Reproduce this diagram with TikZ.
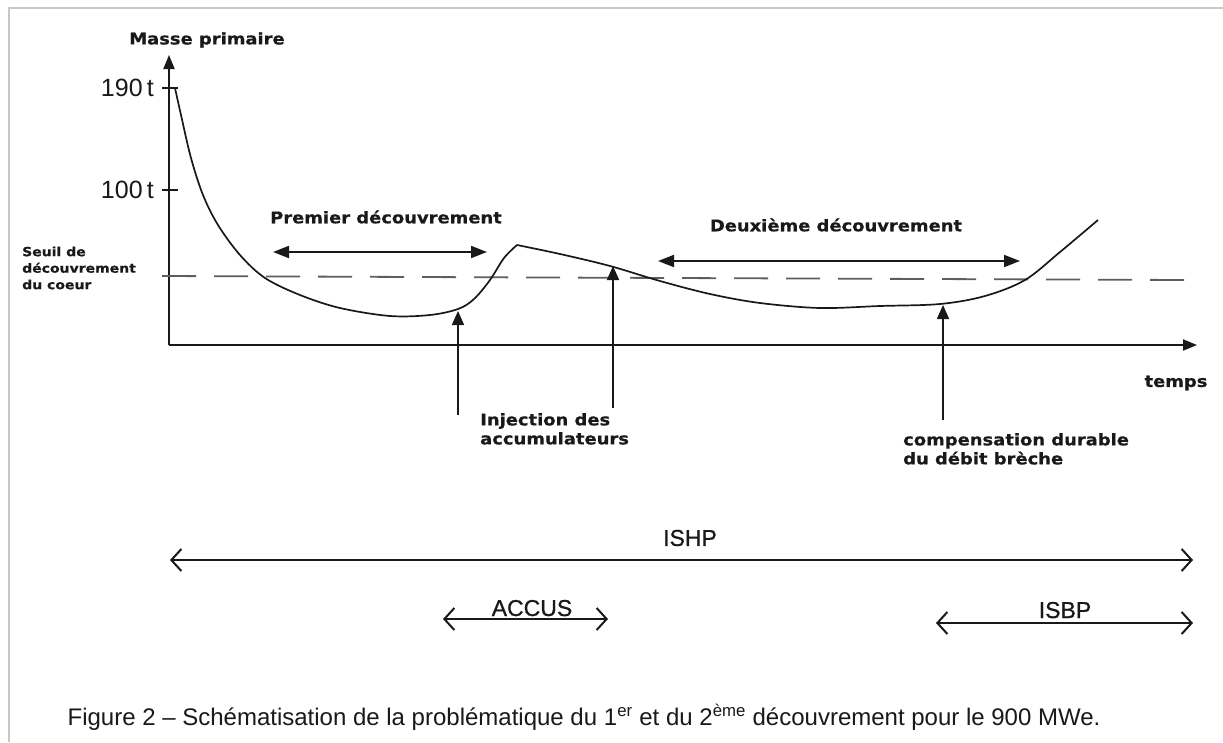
\documentclass[tikz,border=0pt]{standalone}
\usepackage{fontspec}
\usetikzlibrary{arrows.meta}
\newfontfamily\lab{DejaVu Sans}[FakeStretch=1.12, BoldFeatures={FakeBold=0.6}]
\newfontfamily\ari{Liberation Sans}
\newfontfamily\arib{Liberation Sans}[FakeBold=0.8]
\definecolor{framegray}{RGB}{200,200,200}
\definecolor{ink}{RGB}{25,25,25}
\tikzset{
  axis/.style={draw=ink, line width=2pt, -{Triangle[length=14pt,width=11pt]}},
  curve/.style={draw=ink, line width=1.7pt, line join=round},
  seuil/.style={draw=ink!70, line width=1.8pt, dash pattern=on 34pt off 18pt},
  fillarrow/.style={draw=ink, line width=1.8pt, {Triangle[length=16pt,width=12pt]}-{Triangle[length=16pt,width=12pt]}},
  uparrow/.style={draw=ink, line width=1.7pt, -{Triangle[length=14pt,width=12pt]}},
  openarrow/.style={draw=ink, line width=2pt, {Straight Barb[length=10pt,width=22pt]}-{Straight Barb[length=10pt,width=22pt]}},
  blab/.style={font=\lab\bfseries\fontsize{16}{19}\selectfont, text=ink, inner sep=0pt},
  slab/.style={font=\lab\bfseries\fontsize{12.5}{16.5}\selectfont, text=ink, inner sep=0pt, align=left},
  tlab/.style={font=\ari\fontsize{25}{28}\selectfont, text=ink, inner sep=0pt},
  plab/.style={font=\arib\fontsize{23}{26}\selectfont, text=ink, inner sep=0pt},
}
\begin{document}
\begin{tikzpicture}[x=1pt,y=-1pt]
\useasboundingbox (0,0) rectangle (1223,742);
\fill[white] (0,0) rectangle (1223,742);
% frame
\draw[framegray, line width=1.5pt] (9,742) -- (9,8) -- (1223,8);
% axes
\coordinate (O) at (169,345);
\coordinate (ytop) at (169,55);
\coordinate (xend) at (1197,345);
\draw[axis] (O) -- (ytop);
\draw[axis] (O) -- (xend);
\node[blab] (masse) at (207,40) {Masse primaire};
\node[blab] (temps) at (1176,383) {temps};
% ticks
\coordinate (t190a) at (162,88); \coordinate (t190b) at (178,88);
\coordinate (t100a) at (162,190); \coordinate (t100b) at (178,190);
\draw[ink, line width=1.8pt] (t190a) -- (t190b);
\draw[ink, line width=1.8pt] (t100a) -- (t100b);
\node[tlab, anchor=east] (l190) at (154,88) {190\,t};
\node[tlab, anchor=east] (l100) at (154,190) {100\,t};
% seuil
\coordinate (s1) at (162,276);
\coordinate (s2) at (1185,280);
\draw[seuil] (s1) -- (s2);
\node[slab, anchor=west] (seuiltxt) at (22,268) {Seuil de\\découvrement\\du coeur};
% curve
\draw[curve] plot[smooth, tension=0.55] coordinates {(175,88) (181,115) (191,158) (203,195) (218,225) (240,255) (265,278) (300,295) (340,308) (390,316) (430,315) (458,309) (474,299) (490,280) (504,258) (517,245)};
\draw[curve] plot[smooth, tension=0.55] coordinates {(517,245) (560,254) (610,266) (660,281) (710,294) (760,303) (820,308) (880,306) (940,304) (985,296) (1025,280) (1060,252) (1098,220)};
% premier
\coordinate (p1) at (273,252); \coordinate (p2) at (487,252);
\draw[fillarrow] (p1) -- (p2);
\node[blab] (premier) at (386,217) {Premier découvrement};
% deuxieme
\coordinate (d1) at (658,261); \coordinate (d2) at (1020,261);
\draw[fillarrow] (d1) -- (d2);
\node[blab] (deux) at (836,225) {Deuxième découvrement};
% vertical arrows
\coordinate (i0) at (458,415); \coordinate (i1) at (458,311);
\draw[uparrow] (i0) -- (i1);
\coordinate (j0) at (613,408); \coordinate (j1) at (613,266);
\draw[uparrow] (j0) -- (j1);
\coordinate (c0) at (943,420); \coordinate (c1) at (943,305);
\draw[uparrow] (c0) -- (c1);
\node[blab, anchor=north west, align=left] (inj) at (480,413) {Injection des\\accumulateurs};
\node[blab, anchor=north west, align=left] (comp) at (903,433) {compensation durable\\du débit brèche};
% bottom ranges
\coordinate (h1) at (170,560); \coordinate (h2) at (1193,560);
\draw[openarrow] (h1) -- (h2);
\node[plab] (ishp) at (690,538) {ISHP};
\coordinate (a1) at (443,619); \coordinate (a2) at (608,619);
\draw[openarrow] (a1) -- (a2);
\node[plab, anchor=base] (accus) at (532,616) {ACCUS};
\coordinate (b1) at (936,623); \coordinate (b2) at (1193,623);
\draw[openarrow] (b1) -- (b2);
\node[plab, anchor=base] (isbp) at (1065,618) {ISBP};
% caption
\node[font=\ari\fontsize{24}{28}\selectfont, text=ink, inner sep=0pt] (cap) at (584,717) {Figure 2 – Schématisation de la problématique du 1\textsuperscript{er} et du 2\textsuperscript{ème} découvrement pour le 900 MWe.};
\end{tikzpicture}
\end{document}
